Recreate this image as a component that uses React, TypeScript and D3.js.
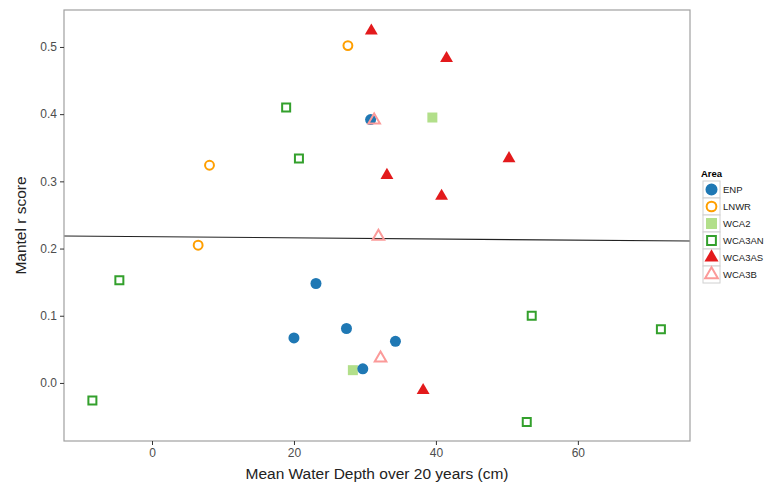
import React, { useEffect, useRef } from 'react';
import * as d3 from 'd3';

// values
const areas = ['ENP', 'LNWR', 'WCA2', 'WCA3AN', 'WCA3AS', 'WCA3B'];
const areaColors = ['#1f78b4', '#ff9f00', '#b2df8a', '#33a02c', '#e31a1c', '#fb9a99'];

const enpX = [20.0, 23.1, 27.4, 29.7, 34.3, 30.8];
const enpY = [0.067, 0.148, 0.081, 0.021, 0.062, 0.392];
const lnwrX = [27.6, 8.1, 6.5];
const lnwrY = [0.502, 0.324, 0.205];
const wca2X = [39.5, 28.3];
const wca2Y = [0.395, 0.019];
const wca3anX = [18.9, 20.7, -4.6, -8.4, 53.5, 71.7, 52.8];
const wca3anY = [0.41, 0.334, 0.153, -0.026, 0.1, 0.08, -0.058];
const wca3asX = [30.9, 41.5, 33.1, 40.8, 50.3, 38.2];
const wca3asY = [0.524, 0.483, 0.309, 0.278, 0.334, -0.011];
const wca3bX = [31.3, 31.9, 32.2];
const wca3bY = [0.391, 0.218, 0.037];

// fitted line across the panel
const fitX = [-12.4, 75.8];
const fitY = [0.2186, 0.2112];

const xTicks = [0, 20, 40, 60];
const yTicks = [0.0, 0.1, 0.2, 0.3, 0.4, 0.5];

const seriesX = [enpX, lnwrX, wca2X, wca3anX, wca3asX, wca3bX];
const seriesY = [enpY, lnwrY, wca2Y, wca3anY, wca3asY, wca3bY];
// marker style per area: symbol, filled?
const symbols = [d3.symbolCircle, d3.symbolCircle, d3.symbolSquare, d3.symbolSquare, d3.symbolTriangle, d3.symbolTriangle];
const filled = [true, false, true, false, true, false];
const sizes = [95, 62, 100, 64, 72, 58];
const drawOrder = [2, 0, 1, 3, 4, 5];

function App() {
  const ref = useRef<SVGSVGElement | null>(null);

  useEffect(() => {
    const el = ref.current;
    if (!el) return;
    const svg = d3.select(el);
    svg.selectAll('*').remove();

    const left = 64, right = 690, top = 10, bottom = 441;
    const font = 'Liberation Sans, Arial, sans-serif';

    const x = d3.scaleLinear().domain([-12.4, 75.8]).range([left, right]);
    const y = d3.scaleLinear().domain([-0.0864, 0.555]).range([bottom, top]);

    svg.append('rect').attr('width', 765).attr('height', 485).attr('fill', 'white');

    // fit line
    svg
      .append('path')
      .attr('d', d3.line<number>().x((d) => x(d)).y((d, i) => y(fitY[i]))(fitX) || '')
      .attr('stroke', '#222')
      .attr('stroke-width', 1.1)
      .attr('fill', 'none');

    // points
    drawOrder.forEach((k) => {
      const pts = seriesX[k].map((v, i) => [v, seriesY[k][i]]);
      const sym = d3.symbol().type(symbols[k]).size(sizes[k]);
      svg
        .append('g')
        .selectAll('path')
        .data(pts)
        .join('path')
        .attr('d', sym)
        .attr('transform', (d) => `translate(${x(d[0])},${y(d[1])})`)
        .attr('fill', filled[k] ? areaColors[k] : 'none')
        .attr('stroke', filled[k] ? 'none' : areaColors[k])
        .attr('stroke-width', filled[k] ? 0 : 2);
    });

    // panel border
    svg
      .append('rect')
      .attr('x', left)
      .attr('y', top)
      .attr('width', right - left)
      .attr('height', bottom - top)
      .attr('fill', 'none')
      .attr('stroke', '#a0a0a0')
      .attr('stroke-width', 1.2);

    // axes
    const xAxis = svg
      .append('g')
      .attr('transform', `translate(0,${bottom})`)
      .call(d3.axisBottom(x).tickValues(xTicks).tickSize(4).tickPadding(3).tickFormat(d3.format('d')));
    xAxis.select('.domain').remove();
    xAxis.selectAll('line').attr('stroke', '#333');
    xAxis.selectAll('text').attr('fill', '#4d4d4d').style('font-size', '12px').style('font-family', font);

    const yAxis = svg
      .append('g')
      .attr('transform', `translate(${left},0)`)
      .call(d3.axisLeft(y).tickValues(yTicks).tickSize(4).tickPadding(3).tickFormat(d3.format('.1f')));
    yAxis.select('.domain').remove();
    yAxis.selectAll('line').attr('stroke', '#333');
    yAxis.selectAll('text').attr('fill', '#4d4d4d').style('font-size', '12px').style('font-family', font);

    svg
      .append('text')
      .attr('x', 377)
      .attr('y', 479)
      .attr('text-anchor', 'middle')
      .style('font-family', font)
      .style('font-size', '15.5px')
      .attr('fill', '#222')
      .text('Mean Water Depth over 20 years (cm)');

    svg
      .append('text')
      .attr('transform', `translate(26,${(top + bottom) / 2}) rotate(-90)`)
      .attr('text-anchor', 'middle')
      .style('font-family', font)
      .style('font-size', '15.5px')
      .attr('fill', '#222')
      .text('Mantel r score');

    // legend
    const lg = svg.append('g').attr('transform', 'translate(703,181)');
    lg.append('text')
      .attr('x', -2)
      .attr('y', -4)
      .style('font-family', font)
      .style('font-size', '9.5px')
      .style('font-weight', 'bold')
      .text('Area');
    areas.forEach((name, k) => {
      const row = lg.append('g').attr('transform', `translate(0,${k * 17})`);
      row.append('rect').attr('width', 17).attr('height', 17).attr('fill', '#fff').attr('stroke', '#d0d0d0').attr('stroke-width', 1);
      row
        .append('path')
        .attr('d', d3.symbol().type(symbols[k]).size(sizes[k] * 1.2)())
        .attr('transform', 'translate(8.5,8.5)')
        .attr('fill', filled[k] ? areaColors[k] : 'none')
        .attr('stroke', filled[k] ? 'none' : areaColors[k])
        .attr('stroke-width', filled[k] ? 0 : 2);
      row
        .append('text')
        .attr('x', 20)
        .attr('y', 12)
        .style('font-family', font)
        .style('font-size', '9.5px')
        .attr('fill', '#222')
        .text(name);
    });
  }, []);

  return (
    <div style={{ position: 'absolute', left: 0, top: 0 }}>
      <svg ref={ref} width={765} height={485} />
    </div>
  );
}

export default App;
